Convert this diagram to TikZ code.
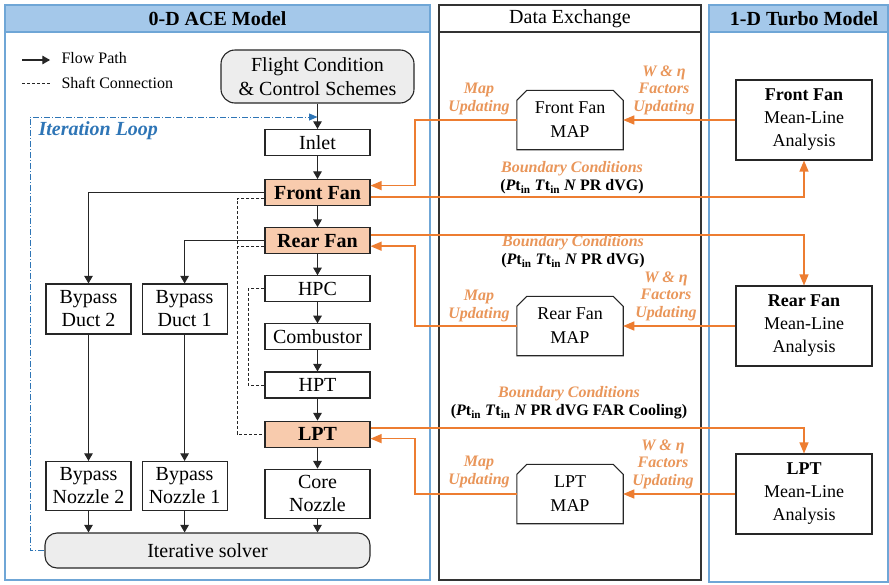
\documentclass[tikz,border=0pt]{standalone}
\usepackage{fontspec}
\setmainfont{Liberation Serif}
\usetikzlibrary{arrows,positioning,calc}

\definecolor{headblue}{HTML}{A4C8EA}
\definecolor{panelblue}{HTML}{6FA6D6}
\definecolor{loopblue}{HTML}{2E75B6}
\definecolor{fanfill}{HTML}{F8CBAD}
\definecolor{lineorange}{HTML}{ED7D31}
\definecolor{textorange}{HTML}{E9965A}
\definecolor{boxgray}{HTML}{EDEDED}

\begin{document}
\begin{tikzpicture}[x=1pt, y=-1pt, >=triangle 60, node distance=21pt]
		\tikzstyle{comp}=[draw=black!85, line width=1.1pt, minimum width=105pt, minimum height=26pt, inner sep=1pt, align=center, font=\fontsize{20}{23}\selectfont]
		\tikzstyle{fanbox}=[comp, fill=fanfill, font=\fontsize{20}{23}\selectfont\bfseries]
		\tikzstyle{duct}=[comp, minimum width=85pt, minimum height=50pt]
		\tikzstyle{roundbox}=[comp, fill=boxgray, rounded corners=14pt, font=\fontsize{20}{24}\selectfont]
		\tikzstyle{mapbox}=[minimum width=106pt, minimum height=59pt, inner sep=1pt, align=center, font=\fontsize{18}{24}\selectfont]
		\tikzstyle{meanbox}=[draw=black!85, line width=1.1pt, minimum width=136pt, minimum height=80pt, inner sep=1pt, align=center, font=\fontsize{18}{23}\selectfont]
		\tikzstyle{panelhead}=[font=\fontsize{20}{22}\selectfont\bfseries]
		\tikzstyle{legendtext}=[anchor=west, font=\fontsize{16}{18}\selectfont]
		\tikzstyle{xferlabel}=[align=center, text=textorange, font=\fontsize{16}{17.5}\selectfont\bfseries\itshape]
		\tikzstyle{bclabel}=[align=center, font=\fontsize{16}{18}\selectfont\bfseries]
		\tikzstyle{flow}=[->, draw=black!85, line width=1.1pt]
		\tikzstyle{shaft}=[draw=black!85, line width=1pt, dashed, dash pattern=on 3pt off 2pt]
		\tikzstyle{xfer}=[-triangle 45, draw=lineorange, line width=1.6pt]
		\tikzstyle{iterloop}=[-triangle 45, draw=loopblue, line width=0.9pt, dash pattern=on 6pt off 2pt on 1pt off 2pt]
		\useasboundingbox (0,0) rectangle (889,584);

		% panels
		\draw[panelblue, line width=1.5pt, fill=headblue] (5,5) rectangle (430,32);
		\draw[panelblue, line width=1.5pt] (5,5) rectangle (430,580);
		\draw[black!80, line width=1.2pt] (439,5) rectangle (701,580);
		\draw[black!80, line width=1.2pt] (439,32) -- (701,32);
		\draw[panelblue, line width=1.5pt, fill=headblue] (709,5) rectangle (888,32);
		\draw[panelblue, line width=1.5pt] (709,5) rectangle (888,582);
		\node[panelhead] (acehead)   at (217.5,18.5) {0-D ACE Model};
		\node[font=\fontsize{20}{22}\selectfont] (dxhead) at (570,18.5) {Data Exchange};
		\node[panelhead] (turbohead) at (804,18.5) {1-D Turbo Model};

		% legend
		\coordinate (lgflow)  at (22,60);
		\coordinate (lgshaft) at (22,83);
		\draw[flow]  (lgflow) -- ++(28,0);
		\draw[shaft] (lgshaft) -- ++(28,0);
		\node[legendtext] (flowtext)  at (58,58) {Flow Path};
		\node[legendtext] (shafttext) at (58,83) {Shaft Connection};

		% engine components
		\node[roundbox, minimum width=193pt, minimum height=53pt] (flight) at (317.5,76.5) {Flight Condition\\\& Control Schemes};
		\node[comp]    (inlet)                     at (317.5,142.5) {Inlet};
		\node[fanbox]  (ffan)  [below = 23pt of inlet] {Front Fan};
		\node[fanbox]  (rfan)  [below = of ffan]   {Rear Fan};
		\node[comp]    (hpc)   [below = of rfan]   {HPC};
		\node[comp]    (comb)  [below = of hpc]    {Combustor};
		\node[comp]    (hpt)   [below = of comb]   {HPT};
		\node[fanbox]  (lpt)   [below = 22pt of hpt] {LPT};
		\node[comp, minimum height=49pt] (core) [below = of lpt] {Core\\Nozzle};
		\node[duct]    (bd2)                       at (88.5,309) {Bypass\\Duct 2};
		\node[duct]    (bd1)   [right = 10pt of bd2] {Bypass\\Duct 1};
		\node[duct, minimum height=49pt] (bn2)     at (88.5,486) {Bypass\\Nozzle 2};
		\node[duct, minimum height=49pt] (bn1) [right = 10pt of bn2] {Bypass\\Nozzle 1};
		\node[roundbox, minimum width=325pt, minimum height=35pt, rounded corners=12pt] (solver) at (207.5,550.5) {Iterative solver};

		% flow paths
		\foreach \a/\b in {flight/inlet, inlet/ffan, ffan/rfan, rfan/hpc, hpc/comb, comb/hpt, hpt/lpt, lpt/core, core/solver, bd2/bn2, bd1/bn1, bn2/solver, bn1/solver}
			\draw[flow] (\a.south) -- (\a.south |- \b.north);
		\draw[flow] (ffan.west) -| (bd2.north);
		\draw[flow] (rfan.west) -| (bd1.north);

		% shafts
		\coordinate (shaftx) at (237,0);
		\coordinate (ffshaft) at ([yshift=-6pt]ffan.west);
		\coordinate (rfshaft) at ([yshift=-6pt]rfan.west);
		\draw[shaft] (ffshaft) -- (ffshaft -| shaftx) |- (lpt.west);
		\draw[shaft] (rfshaft) -- (rfshaft -| shaftx);
		\draw[shaft] (hpc.west) -- ++(-16,0) |- (hpt.west);

		% iteration loop
		\coordinate (loopc) at (30,117);
		\draw[iterloop] (solver.west) -| (loopc) -- (loopc -| inlet);
		\node[anchor=west, text=loopblue, font=\fontsize{20}{22}\selectfont\bfseries\itshape] (looptext) at (35,131) {Iteration Loop};

		% data exchange
		\node[mapbox]  (ffmap)  at (570,120) {Front Fan\\MAP};
		\node[mapbox]  (rfmap)  at (570,326) {Rear Fan\\MAP};
		\node[mapbox]  (lptmap) at (570,494) {LPT\\MAP};
		\foreach \m in {ffmap, rfmap, lptmap}
			\draw[black!85, line width=1.1pt] (\m.south west) -- ($(\m.north west)+(0,10)$) -- ($(\m.north west)+(10,0)$)
				-- ($(\m.north east)+(-10,0)$) -- ($(\m.north east)+(0,10)$) -- (\m.south east) -- cycle;
		\node[meanbox] (ffml)   at (804,120) {\textbf{Front Fan}\\Mean-Line\\Analysis};
		\node[meanbox] (rfml)   at (804,326) {\textbf{Rear Fan}\\Mean-Line\\Analysis};
		\node[meanbox] (lptml)  at (804,494) {\textbf{LPT}\\Mean-Line\\Analysis};

		\coordinate (bus) at (415,0);
		\coordinate (ffin)   at ([yshift=7pt]ffan.east);
		\coordinate (ffout)  at ([yshift=-4.5pt]ffan.east);
		\coordinate (rfout)  at ([yshift=5.5pt]rfan.east);
		\coordinate (rfin)   at ([yshift=-5.5pt]rfan.east);
		\coordinate (lptout) at ([yshift=6pt]lpt.east);
		\coordinate (lptin)  at ([yshift=-4.5pt]lpt.east);

		\draw[xfer] (ffml.west) -- (ffmap.east);
		\draw[xfer] (ffmap.west) -| (ffin -| bus) -- (ffin);
		\draw[xfer] (ffout) -| (ffml.south);
		\draw[xfer] (rfout) -| (rfml.north);
		\draw[xfer] (rfml.west) -- (rfmap.east);
		\draw[xfer] (rfmap.west) -| (rfin -| bus) -- (rfin);
		\draw[xfer] (lptout) -| (lptml.north);
		\draw[xfer] (lptml.west) -- (lptmap.east);
		\draw[xfer] (lptmap.west) -| (lptin -| bus) -- (lptin);

		% labels
		\node[xferlabel] (ffmaplabel)  at (479,99)  {Map\\Updating};
		\node[xferlabel] (rfmaplabel)  at (479,306) {Map\\Updating};
		\node[xferlabel] (lptmaplabel) at (479,472) {Map\\Updating};
		\node[xferlabel] (ffwlabel)    at (664,90)  {W \& η\\Factors\\Updating};
		\node[xferlabel] (rfwlabel)    at (666,296) {W \& η\\Factors\\Updating};
		\node[xferlabel] (lptwlabel)   at (663,464) {W \& η\\Factors\\Updating};
		\node[bclabel] (ffbc)  at (572,178) {\textcolor{textorange}{\itshape Boundary Conditions}\\(\textit{P}t\textsubscript{in} \textit{T}t\textsubscript{in} \textit{N} PR dVG)};
		\node[bclabel] (rfbc)  at (573,252) {\textcolor{textorange}{\itshape Boundary Conditions}\\(\textit{P}t\textsubscript{in} \textit{T}t\textsubscript{in} \textit{N} PR dVG)};
		\node[bclabel] (lptbc) at (569,403) {\textcolor{textorange}{\itshape Boundary Conditions}\\(\textit{P}t\textsubscript{in} \textit{T}t\textsubscript{in} \textit{N} PR dVG FAR Cooling)};
	\end{tikzpicture}
\end{document}
